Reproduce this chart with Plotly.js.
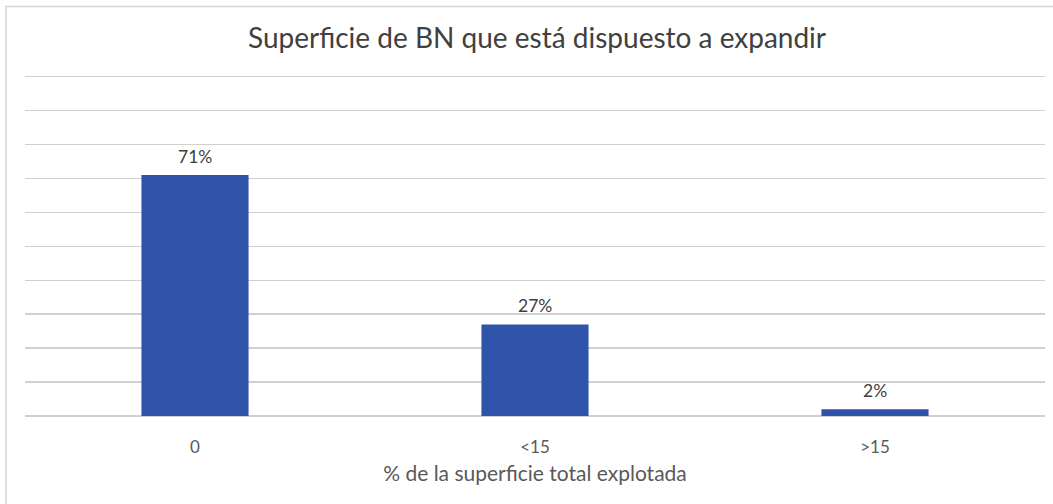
<!DOCTYPE html>
<html>
<head>
<meta charset="utf-8">
<script src="https://cdn.plot.ly/plotly-3.0.1.min.js"></script>
<style>
html,body{margin:0;padding:0;background:#fff;}
#chart{width:1053px;height:504px;}
</style>
</head>
<body>
<div id="chart"></div>
<script>
const categories = ["0", "<15", ">15"];
const values = [71, 27, 2];
const chartTitle = "Superficie de BN que está dispuesto a expandir";
const xTitle = "% de la superficie total explotada";

const FONT = "Lato, 'Open Sans', sans-serif";

const trace = {
  type: "bar",
  x: categories,
  y: values,
  width: 0.315,
  marker: {color: "#2E53A8"},
  hoverinfo: "skip"
};

const labelAnnotations = values.map((v, i) => ({
  x: categories[i],
  y: v,
  xref: "x",
  yref: "y",
  text: v + "%",
  showarrow: false,
  yanchor: "bottom",
  yshift: 6,
  font: {family: FONT, size: 17.5, color: "#404040"}
}));

const layout = {
  width: 1053,
  height: 504,
  margin: {l: 25, r: 8, t: 75, b: 87.5},
  paper_bgcolor: "#ffffff",
  plot_bgcolor: "#ffffff",
  showlegend: false,
  font: {family: FONT, color: "#595959"},
  title: {
    text: chartTitle,
    font: {family: FONT, size: 28, color: "#404040"},
    x: 0.51, xanchor: "center",
    y: 0.925, yanchor: "middle"
  },
  xaxis: {
    type: "category",
    showgrid: false,
    showline: false,
    zeroline: false,
    ticks: "",
    ticklabelstandoff: 19,
    tickfont: {family: FONT, size: 17, color: "#595959"},
    title: {text: xTitle, font: {family: FONT, size: 21, color: "#595959"}, standoff: 10}
  },
  yaxis: {
    range: [0, 100.5],
    dtick: 10,
    showticklabels: false,
    showgrid: true,
    gridcolor: "#d0d0d0",
    gridwidth: 1.5,
    zeroline: true,
    zerolinecolor: "#d0d0d0",
    zerolinewidth: 1.5,
    fixedrange: true
  },
  annotations: labelAnnotations,
  shapes: [{
    type: "rect", xref: "paper", yref: "paper",
    x0: -19 / 1020, x1: 1060 / 1020,
    y0: -100 / 341.5, y1: (416.5 - 6.5) / 341.5,
    line: {color: "#d6d6d6", width: 1.5},
    fillcolor: "rgba(0,0,0,0)",
    layer: "below"
  }]
};

Plotly.newPlot("chart", [trace], layout, {displayModeBar: false, staticPlot: true});
</script>
</body>
</html>
